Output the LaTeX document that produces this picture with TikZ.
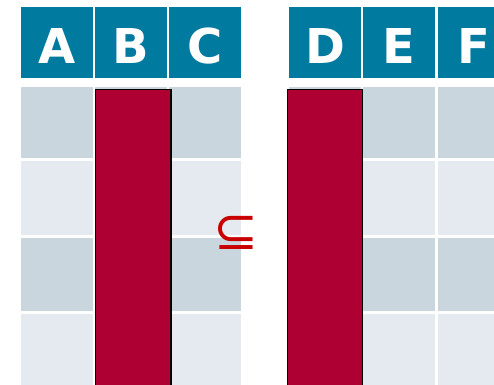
\documentclass[tikz,border=0pt]{standalone}
\usepackage{fontspec}
\setmainfont{DejaVu Sans}
\definecolor{hdrblue}{RGB}{0,122,158}
\definecolor{celldark}{RGB}{201,214,222}
\definecolor{celllight}{RGB}{228,234,239}
\definecolor{barred}{RGB}{175,0,52}
\definecolor{symred}{RGB}{200,0,0}
\tikzset{
  hdr/.style={rectangle, fill=hdrblue, draw=none, anchor=north west, inner sep=0pt,
    minimum width=71.5pt, minimum height=71pt, text=white,
    font=\fontsize{48}{48}\selectfont\bfseries, text height=41pt, text depth=0pt},
  cellbox/.style={rectangle, draw=none, anchor=north west, inner sep=0pt, minimum width=71.5pt},
  dk/.style={cellbox, fill=celldark},
  lt/.style={cellbox, fill=celllight},
  colbar/.style={rectangle, fill=barred, draw=black, line width=1.3pt, anchor=north west,
    inner sep=0pt, minimum width=75.5pt, minimum height=300pt},
  subsym/.style={text=symred, font=\fontsize{54}{54}\selectfont, inner sep=0pt}
}
\begin{document}
\begin{tikzpicture}[x=1pt,y=-1pt]
\useasboundingbox (0,0) rectangle (494,384);
% headers
\node[hdr] (hA) at (21,7) {A};
\node[hdr] (hB) at (95,7) {B};
\node[hdr] (hC) at (169,7) {C};
\node[hdr] (hD) at (289,7) {D};
\node[hdr] (hE) at (363,7) {E};
\node[hdr] (hF) at (438,7) {F};
% body cells
\foreach \c/\x in {A/21,B/95,C/169,D/289,E/363,F/438}{
  \node[dk, minimum height=71pt] (\c1) at (\x,87) {};
  \node[lt, minimum height=73.6pt] (\c2) at (\x,160.7) {};
  \node[dk, minimum height=73.3pt] (\c3) at (\x,237.7) {};
  \node[lt, minimum height=75pt] (\c4) at (\x,313.7) {};
}
% red bars
\node[colbar] (barB) at (94.7,88.5) {};
\node[colbar] (barD) at (286.5,88.5) {};
% subset symbol
\node[subsym] (sub) at (236,232.5) {⊆};
\end{tikzpicture}
\end{document}
